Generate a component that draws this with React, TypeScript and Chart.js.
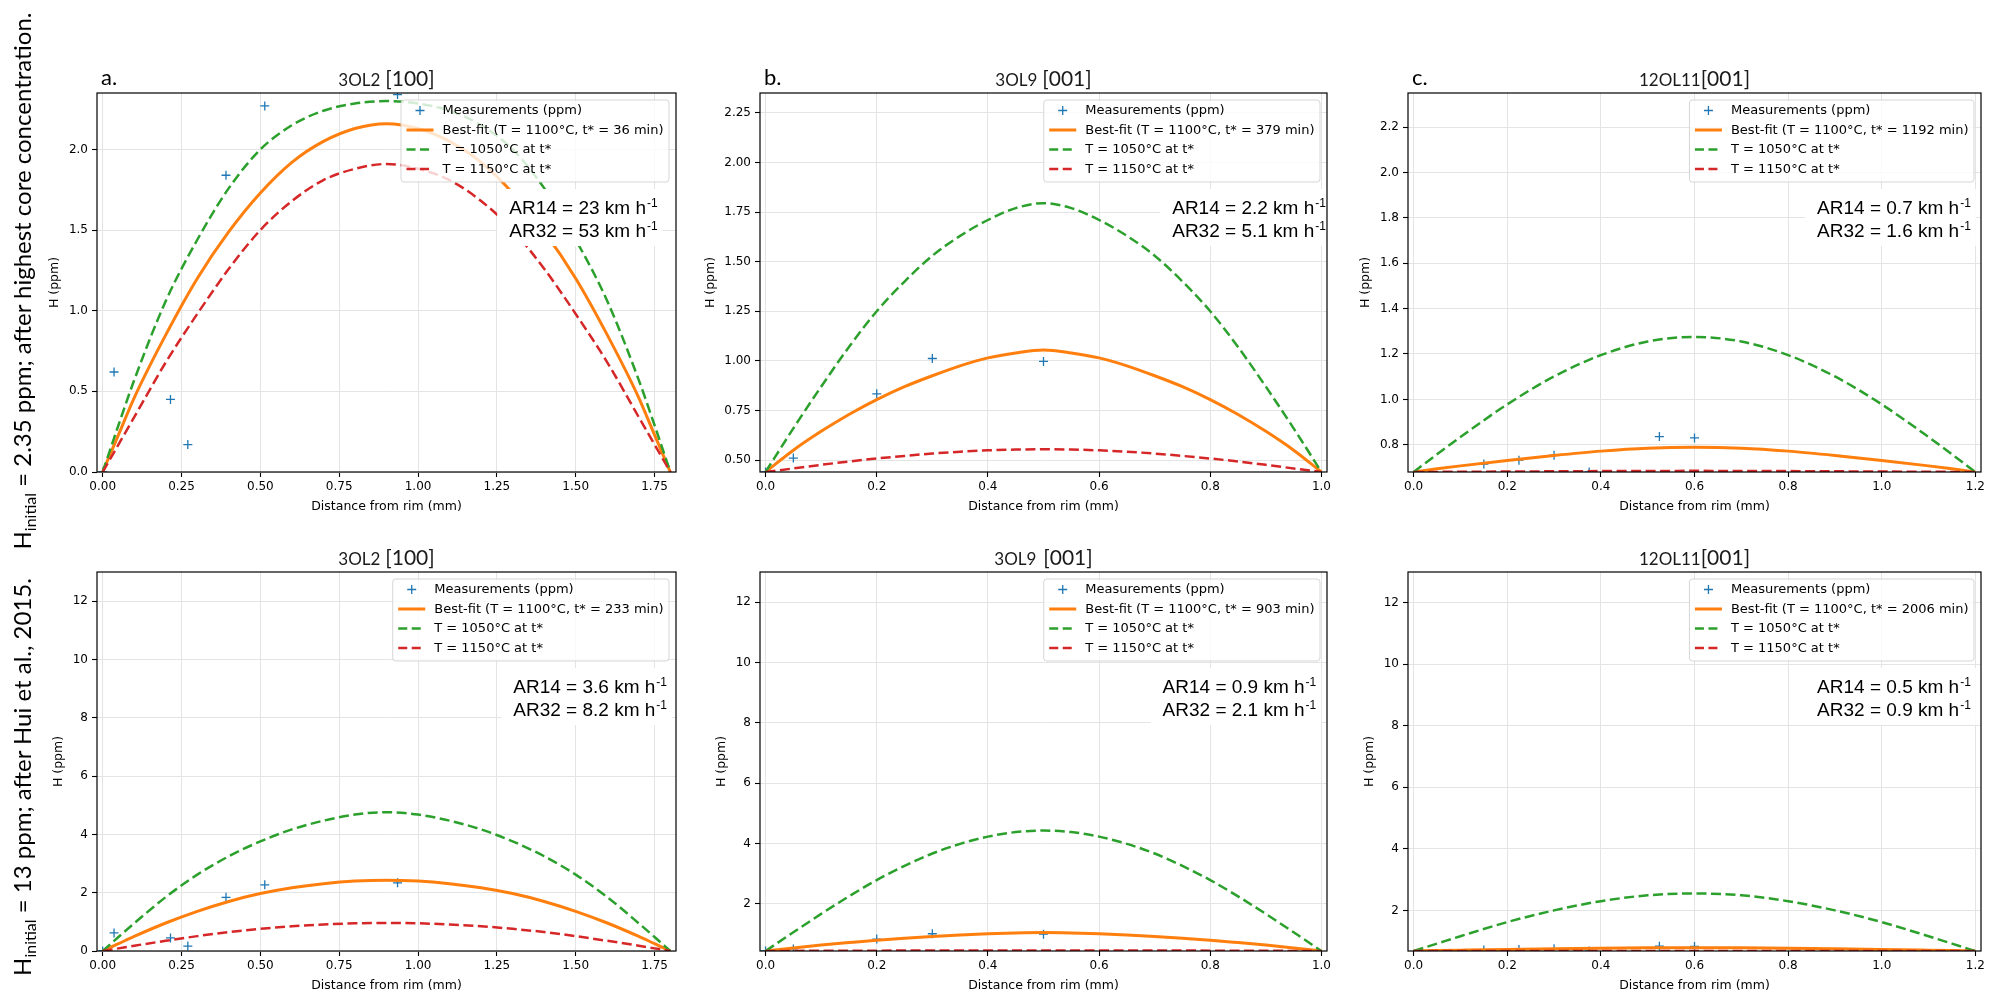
import React, { useEffect, useRef } from "react";
import { Chart, registerables } from "chart.js";

Chart.register(...registerables);

const BLUE = "#1f77b4";
const ORANGE = "#ff7f0e";
const GREEN = "#2ca02c";
const RED = "#d62728";
const GRID = "#e4e4e4";

// ---------------- data ----------------
// Column A (3OL2 [100]) distance grid (mm)
const xA = [0, 0.05, 0.1, 0.2, 0.3, 0.4, 0.5, 0.6, 0.7, 0.8, 0.9, 1.0, 1.1, 1.2, 1.3, 1.4, 1.5, 1.6, 1.7, 1.75, 1.8];
const topA_best = [0, 0.23, 0.46, 0.85, 1.2, 1.49, 1.73, 1.92, 2.05, 2.13, 2.16, 2.13, 2.05, 1.92, 1.73, 1.49, 1.2, 0.85, 0.46, 0.23, 0];
const topA_1050 = [0, 0.29, 0.57, 1.06, 1.44, 1.76, 2.0, 2.15, 2.24, 2.285, 2.3, 2.285, 2.24, 2.15, 2.0, 1.76, 1.44, 1.06, 0.57, 0.29, 0];
const topA_1150 = [0, 0.17, 0.34, 0.68, 0.98, 1.26, 1.5, 1.68, 1.81, 1.88, 1.91, 1.88, 1.81, 1.68, 1.5, 1.26, 0.98, 0.68, 0.34, 0.17, 0];
const botA_best = [0, 0.25, 0.5, 0.96, 1.36, 1.7, 1.97, 2.17, 2.31, 2.4, 2.43, 2.4, 2.31, 2.17, 1.97, 1.7, 1.36, 0.96, 0.5, 0.25, 0];
const botA_1050 = [0, 0.48, 0.95, 1.85, 2.62, 3.25, 3.76, 4.17, 4.47, 4.68, 4.76, 4.68, 4.47, 4.17, 3.76, 3.25, 2.62, 1.85, 0.95, 0.48, 0];
const botA_1150 = [0, 0.09, 0.18, 0.35, 0.51, 0.65, 0.76, 0.85, 0.91, 0.95, 0.96, 0.95, 0.91, 0.85, 0.76, 0.65, 0.51, 0.35, 0.18, 0.09, 0];
const measA_x = [0, 0.036, 0.215, 0.27, 0.391, 0.514, 0.935];
const measA_y = [0, 0.62, 0.45, 0.17, 1.84, 2.27, 2.34];

// Column B (3OL9 [001])
const xB = [0, 0.05, 0.1, 0.15, 0.2, 0.25, 0.3, 0.35, 0.4, 0.45, 0.5, 0.55, 0.6, 0.65, 0.7, 0.75, 0.8, 0.85, 0.9, 0.95, 1.0];
const topB_best = [0.44, 0.55, 0.645, 0.73, 0.805, 0.87, 0.925, 0.975, 1.015, 1.04, 1.055, 1.04, 1.015, 0.975, 0.925, 0.87, 0.805, 0.73, 0.645, 0.55, 0.44];
const topB_1050 = [0.44, 0.66, 0.87, 1.07, 1.25, 1.4, 1.53, 1.63, 1.71, 1.77, 1.795, 1.77, 1.71, 1.63, 1.53, 1.4, 1.25, 1.07, 0.87, 0.66, 0.44];
const topB_1150 = [0.44, 0.458, 0.476, 0.493, 0.508, 0.521, 0.533, 0.542, 0.549, 0.553, 0.555, 0.553, 0.549, 0.542, 0.533, 0.521, 0.508, 0.493, 0.476, 0.458, 0.44];
const botB_best = [0.44, 0.54, 0.635, 0.72, 0.8, 0.865, 0.92, 0.97, 1.01, 1.04, 1.055, 1.04, 1.01, 0.97, 0.92, 0.865, 0.8, 0.72, 0.635, 0.54, 0.44];
const botB_1050 = [0.44, 1.06, 1.67, 2.25, 2.79, 3.26, 3.67, 3.99, 4.23, 4.38, 4.43, 4.38, 4.23, 3.99, 3.67, 3.26, 2.79, 2.25, 1.67, 1.06, 0.44];
const botB_1150 = [0.44, 0.443, 0.446, 0.449, 0.452, 0.454, 0.456, 0.457, 0.458, 0.459, 0.459, 0.459, 0.458, 0.457, 0.456, 0.454, 0.452, 0.449, 0.446, 0.443, 0.44];
const measB_x = [0, 0.05, 0.2, 0.3, 0.5];
const measB_y = [0.44, 0.51, 0.834, 1.012, 0.997];

// Column C (12OL11 [001])
const xC = [0, 0.05, 0.1, 0.2, 0.3, 0.4, 0.5, 0.6, 0.7, 0.8, 0.9, 1.0, 1.1, 1.15, 1.2];
const topC_best = [0.68, 0.694, 0.707, 0.731, 0.753, 0.772, 0.785, 0.789, 0.785, 0.772, 0.753, 0.731, 0.707, 0.694, 0.68];
const topC_1050 = [0.68, 0.758, 0.834, 0.978, 1.101, 1.195, 1.255, 1.275, 1.255, 1.195, 1.101, 0.978, 0.834, 0.758, 0.68];
const topC_1150 = [0.68, 0.6805, 0.681, 0.682, 0.683, 0.684, 0.6845, 0.685, 0.6845, 0.684, 0.683, 0.682, 0.681, 0.6805, 0.68];
const botC_best = [0.68, 0.694, 0.707, 0.732, 0.754, 0.772, 0.784, 0.788, 0.784, 0.772, 0.754, 0.732, 0.707, 0.694, 0.68];
const botC_1050 = [0.68, 0.92, 1.16, 1.62, 2.0, 2.3, 2.49, 2.55, 2.49, 2.3, 2.0, 1.62, 1.16, 0.92, 0.68];
const botC_1150 = [0.68, 0.68, 0.681, 0.681, 0.682, 0.682, 0.682, 0.682, 0.682, 0.682, 0.682, 0.681, 0.681, 0.68, 0.68];
const measC_x = [0.15, 0.225, 0.3, 0.375, 0.525, 0.6];
const measC_y = [0.715, 0.732, 0.754, 0.68, 0.836, 0.83];

// axis ranges and ticks
const xRangeA = [-0.018, 1.818];
const xRangeB = [-0.01, 1.01];
const xRangeC = [-0.012, 1.212];
const yRangeTopA = [0, 2.35];
const yRangeTopB = [0.44, 2.35];
const yRangeTopC = [0.68, 2.35];
const yRangeBotA = [0, 13];
const yRangeBotB = [0.44, 13];
const yRangeBotC = [0.68, 13];
const ticksX_A = [0, 0.25, 0.5, 0.75, 1.0, 1.25, 1.5, 1.75];
const ticksX_B = [0, 0.2, 0.4, 0.6, 0.8, 1.0];
const ticksX_C = [0, 0.2, 0.4, 0.6, 0.8, 1.0, 1.2];
const ticksY_topA = [0, 0.5, 1.0, 1.5, 2.0];
const ticksY_topB = [0.5, 0.75, 1.0, 1.25, 1.5, 1.75, 2.0, 2.25];
const ticksY_topC = [0.8, 1.0, 1.2, 1.4, 1.6, 1.8, 2.0, 2.2];
const ticksY_botA = [0, 2, 4, 6, 8, 10, 12];
const ticksY_botBC = [2, 4, 6, 8, 10, 12];

// text values
const tStar = ["36", "379", "1192", "233", "903", "2006"];
const ar14 = ["23", "2.2", "0.7", "3.6", "0.9", "0.5"];
const ar32 = ["53", "5.1", "1.6", "8.2", "2.1", "0.9"];
const samples = ["3OL2", "3OL9", "12OL11"];
const axesDir = ["[100]", "[001]", "[001]"];
const letters = ["a.", "b.", "c."];

// ---------------- layout ----------------
const COLS = [
  { left: 97, width: 579 },
  { left: 760, width: 567 },
  { left: 1408, width: 573 },
];
const ROWS = [
  { top: 93, height: 379 },
  { top: 572, height: 379 },
];
const PL = 80;
const PT = 50;
const PR = 20;
const PB = 50;

const PANELS = [
  { row: 0, col: 0, xs: xA, best: topA_best, g: topA_1050, r: topA_1150, mx: measA_x, my: measA_y, xr: xRangeA, yr: yRangeTopA, xt: ticksX_A, yt: ticksY_topA, xd: 2, yd: 1, k: 0, gap: 5, annFrac: 0.712 },
  { row: 0, col: 1, xs: xB, best: topB_best, g: topB_1050, r: topB_1150, mx: measB_x, my: measB_y, xr: xRangeB, yr: yRangeTopB, xt: ticksX_B, yt: ticksY_topB, xd: 1, yd: 2, k: 1, gap: 5, annFrac: 0.727 },
  { row: 0, col: 2, xs: xC, best: topC_best, g: topC_1050, r: topC_1150, mx: measC_x, my: measC_y, xr: xRangeC, yr: yRangeTopC, xt: ticksX_C, yt: ticksY_topC, xd: 1, yd: 1, k: 2, gap: 0, annFrac: 0.714 },
  { row: 1, col: 0, xs: xA, best: botA_best, g: botA_1050, r: botA_1150, mx: measA_x, my: measA_y, xr: xRangeA, yr: yRangeBotA, xt: ticksX_A, yt: ticksY_botA, xd: 2, yd: 0, k: 3, gap: 5, annFrac: 0.719 },
  { row: 1, col: 1, xs: xB, best: botB_best, g: botB_1050, r: botB_1150, mx: measB_x, my: measB_y, xr: xRangeB, yr: yRangeBotB, xt: ticksX_B, yt: ticksY_botBC, xd: 1, yd: 0, k: 4, gap: 7, annFrac: 0.71 },
  { row: 1, col: 2, xs: xC, best: botC_best, g: botC_1050, r: botC_1150, mx: measC_x, my: measC_y, xr: xRangeC, yr: yRangeBotC, xt: ticksX_C, yt: ticksY_botBC, xd: 1, yd: 0, k: 5, gap: 0, annFrac: 0.714 },
];

const TICK_FONT = '12px "DejaVu Sans"';
const LEG_FONT = '13px "DejaVu Sans"';
const AXT_FONT = '12.5px "DejaVu Sans"';
const ANN_FONT = '19px "Liberation Sans", Arial, sans-serif';
const SUP_FONT = '12px "Liberation Sans", Arial, sans-serif';

function rr(ctx: CanvasRenderingContext2D, x: number, y: number, w: number, h: number, r: number) {
  ctx.beginPath();
  ctx.moveTo(x + r, y);
  ctx.lineTo(x + w - r, y);
  ctx.arcTo(x + w, y, x + w, y + r, r);
  ctx.lineTo(x + w, y + h - r);
  ctx.arcTo(x + w, y + h, x + w - r, y + h, r);
  ctx.lineTo(x + r, y + h);
  ctx.arcTo(x, y + h, x, y + h - r, r);
  ctx.lineTo(x, y + r);
  ctx.arcTo(x, y, x + r, y, r);
  ctx.closePath();
}

function makeDecor(p: any) {
  const col = p.col;
  return {
    id: "decor",
    afterDatasetsDraw(chart: any) {
      const ctx: CanvasRenderingContext2D = chart.ctx;
      const ca = chart.chartArea;
      ctx.save();
      ctx.setLineDash([]);
      // annotation with white box
      const lines = ["AR14 = " + ar14[p.k] + " km h", "AR32 = " + ar32[p.k] + " km h"];
      ctx.font = ANN_FONT;
      const lw = lines.map((l) => ctx.measureText(l).width);
      ctx.font = SUP_FONT;
      const sw = ctx.measureText("-1").width;
      const x0 = ca.left + p.annFrac * (ca.right - ca.left);
      const y1 = ca.top + 114;
      const y2 = ca.top + 137;
      ctx.fillStyle = "#ffffff";
      ctx.fillRect(x0 - 12, y1 - 18, Math.max(...lw) + sw + 18, y2 - y1 + 34);
      ctx.fillStyle = "#000";
      ctx.textAlign = "left";
      ctx.textBaseline = "alphabetic";
      [y1, y2].forEach((yc, i) => {
        const base = yc + 7;
        ctx.font = ANN_FONT;
        ctx.fillText(lines[i], x0, base);
        ctx.font = SUP_FONT;
        ctx.fillText("-1", x0 + lw[i] + 1, base - 7);
      });

      // legend
      const labs = [
        "Measurements (ppm)",
        "Best-fit (T = 1100°C, t* = " + tStar[p.k] + " min)",
        "T = 1050°C at t*",
        "T = 1150°C at t*",
      ];
      ctx.font = LEG_FONT;
      const tw = Math.max(...labs.map((l) => ctx.measureText(l).width));
      const pad = 5.5;
      const hl = 27;
      const hg = 9;
      const bw = pad + hl + hg + tw + pad;
      const bx = ca.right - 7 - bw;
      const by = ca.top + 7;
      const bh = 82;
      rr(ctx, bx, by, bw, bh, 3);
      ctx.fillStyle = "rgba(255,255,255,0.8)";
      ctx.fill();
      ctx.strokeStyle = "rgba(204,204,204,0.8)";
      ctx.lineWidth = 1;
      ctx.stroke();
      const hx = bx + pad;
      labs.forEach((l, i) => {
        const yc = by + 10.5 + i * 19.5;
        ctx.setLineDash([]);
        if (i === 0) {
          const cx = hx + hl / 2;
          ctx.strokeStyle = BLUE;
          ctx.lineWidth = 1.3;
          ctx.beginPath();
          ctx.moveTo(cx - 4.5, yc);
          ctx.lineTo(cx + 4.5, yc);
          ctx.moveTo(cx, yc - 4.5);
          ctx.lineTo(cx, yc + 4.5);
          ctx.stroke();
        } else {
          ctx.strokeStyle = i === 1 ? ORANGE : i === 2 ? GREEN : RED;
          ctx.lineWidth = i === 1 ? 3 : 2.5;
          if (i > 1) ctx.setLineDash([9, 4.5]);
          ctx.beginPath();
          ctx.moveTo(hx, yc);
          ctx.lineTo(hx + hl, yc);
          ctx.stroke();
        }
        ctx.setLineDash([]);
        ctx.fillStyle = "#000";
        ctx.font = LEG_FONT;
        ctx.textBaseline = "middle";
        ctx.fillText(l, hx + hl + hg, yc + 0.5);
      });

      // frame
      ctx.strokeStyle = "#000";
      ctx.lineWidth = 1.2;
      ctx.strokeRect(ca.left, ca.top, ca.right - ca.left, ca.bottom - ca.top);
      ctx.restore();
    },
    afterDraw(chart: any) {
      const ctx: CanvasRenderingContext2D = chart.ctx;
      const ca = chart.chartArea;
      ctx.save();
      const mid = (ca.left + ca.right) / 2;
      // title
      ctx.textBaseline = "alphabetic";
      ctx.textAlign = "left";
      ctx.font = "17px Lato";
      const w1 = ctx.measureText(samples[col]).width;
      ctx.font = "21px Lato";
      const w2 = ctx.measureText(axesDir[col]).width;
      const sx = mid - (w1 + p.gap + w2) / 2;
      const tb = ca.top - 7;
      ctx.fillStyle = "#1a1a1a";
      ctx.font = "17px Lato";
      ctx.fillText(samples[col], sx, tb);
      ctx.font = "21px Lato";
      ctx.fillText(axesDir[col], sx + w1 + p.gap, tb);
      // panel letter
      if (p.row === 0) {
        ctx.fillStyle = "#000";
        ctx.font = "22px Lato";
        ctx.fillText(letters[col], ca.left + 4, ca.top - 8);
      }
      // x axis title
      ctx.fillStyle = "#000";
      ctx.font = AXT_FONT;
      ctx.textAlign = "center";
      ctx.textBaseline = "middle";
      ctx.fillText("Distance from rim (mm)", mid, ca.bottom + 35);
      // y axis title
      ctx.font = TICK_FONT;
      const mw = Math.max(...p.yt.map((v: number) => ctx.measureText(v.toFixed(p.yd)).width));
      const yx = ca.left - 9 - mw - 14;
      ctx.translate(yx, (ca.top + ca.bottom) / 2);
      ctx.rotate(-Math.PI / 2);
      ctx.font = AXT_FONT;
      ctx.fillText("H (ppm)", 0, 0);
      ctx.restore();
    },
  };
}

function buildConfig(p: any): any {
  const pts = (xs: number[], ys: number[]) => xs.map((x, i) => ({ x, y: ys[i] }));
  return {
    type: "line",
    data: {
      datasets: [
        {
          label: "Measurements (ppm)",
          data: pts(p.mx, p.my),
          showLine: false,
          pointStyle: "cross",
          pointRadius: 4.5,
          pointBorderWidth: 1.3,
          pointBorderColor: BLUE,
          pointBackgroundColor: BLUE,
          order: 4,
        },
        {
          label: "Best-fit",
          data: pts(p.xs, p.best),
          borderColor: ORANGE,
          borderWidth: 3,
          pointRadius: 0,
          cubicInterpolationMode: "monotone",
          fill: false,
          order: 3,
        },
        {
          label: "T = 1050°C at t*",
          data: pts(p.xs, p.g),
          borderColor: GREEN,
          borderWidth: 2.5,
          borderDash: [10, 4.5],
          pointRadius: 0,
          cubicInterpolationMode: "monotone",
          fill: false,
          order: 2,
        },
        {
          label: "T = 1150°C at t*",
          data: pts(p.xs, p.r),
          borderColor: RED,
          borderWidth: 2.5,
          borderDash: [10, 4.5],
          pointRadius: 0,
          cubicInterpolationMode: "monotone",
          fill: false,
          order: 1,
        },
      ],
    },
    options: {
      animation: false,
      responsive: false,
      events: [],
      layout: { padding: { left: 0, top: PT, right: PR, bottom: 0 } },
      plugins: { legend: { display: false }, tooltip: { enabled: false }, title: { display: false } },
      scales: {
        x: {
          type: "linear",
          min: p.xr[0],
          max: p.xr[1],
          afterBuildTicks: (s: any) => {
            s.ticks = p.xt.map((v: number) => ({ value: v }));
          },
          afterFit: (s: any) => {
            s.height = PB;
          },
          ticks: {
            autoSkip: false,
            maxRotation: 0,
            minRotation: 0,
            padding: 3,
            color: "#000",
            font: { family: "DejaVu Sans", size: 12 },
            callback: (v: any) => Number(v).toFixed(p.xd),
          },
          grid: { color: GRID, lineWidth: 1, drawTicks: true, tickLength: 5, tickColor: "#000", tickWidth: 1.1 },
          border: { display: false },
        },
        y: {
          type: "linear",
          min: p.yr[0],
          max: p.yr[1],
          afterBuildTicks: (s: any) => {
            s.ticks = p.yt.map((v: number) => ({ value: v }));
          },
          afterFit: (s: any) => {
            s.width = PL;
          },
          ticks: {
            autoSkip: false,
            padding: 4,
            color: "#000",
            font: { family: "DejaVu Sans", size: 12 },
            callback: (v: any) => Number(v).toFixed(p.yd),
          },
          grid: { color: GRID, lineWidth: 1, drawTicks: true, tickLength: 5, tickColor: "#000", tickWidth: 1.1 },
          border: { display: false },
        },
      },
    },
    plugins: [makeDecor(p)],
  };
}

function Panel({ p }: { p: any }) {
  const ref = useRef<HTMLCanvasElement | null>(null);
  const c = COLS[p.col];
  const r = ROWS[p.row];
  const W = c.width + PL + PR;
  const H = r.height + PT + PB;
  useEffect(() => {
    if (!ref.current) return;
    const chart = new Chart(ref.current, buildConfig(p));
    return () => chart.destroy();
  }, []);
  return (
    <canvas
      ref={ref}
      width={W}
      height={H}
      style={{ position: "absolute", left: c.left - PL, top: r.top - PT, width: W, height: H }}
    />
  );
}

const sideStyle = (cy: number): React.CSSProperties => ({
  position: "absolute",
  left: 23,
  top: cy,
  transform: "translate(-50%, -50%) rotate(-90deg)",
  whiteSpace: "nowrap",
  fontFamily: "Lato, sans-serif",
  fontSize: 24,
  lineHeight: "28px",
  color: "#000",
});
const subStyle: React.CSSProperties = { fontSize: 16, position: "relative", top: 5 };

export default function App() {
  useEffect(() => {
    document.body.style.overflow = "hidden";
  }, []);
  return (
    <div style={{ position: "absolute", left: 0, top: 0, width: 2001, height: 1005, overflow: "hidden", background: "#fff" }}>
      {PANELS.map((p, i) => (
        <Panel key={i} p={p} />
      ))}
      <div style={sideStyle(281)}>
        H<span style={subStyle}>initial</span> = 2.35 ppm; after highest core concentration.
      </div>
      <div style={sideStyle(777)}>
        H<span style={subStyle}>initial</span> = 13 ppm; after Hui et al., 2015.
      </div>
    </div>
  );
}
